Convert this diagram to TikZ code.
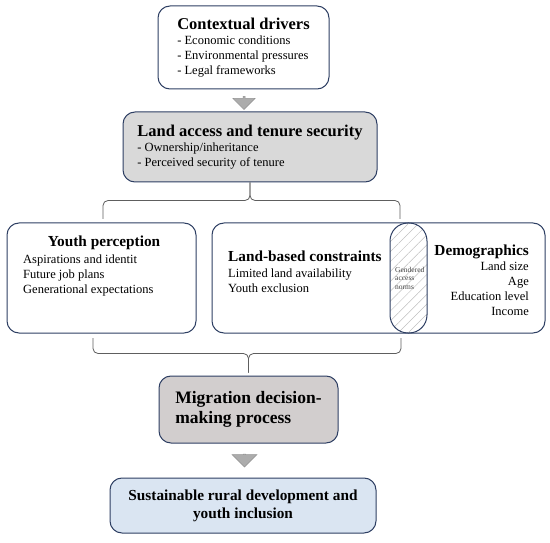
\documentclass[tikz,border=0pt]{standalone}
\usepackage{fontspec}
\setmainfont{Liberation Serif}
\usetikzlibrary{positioning, shapes.arrows, patterns.meta}

\definecolor{boxline}{HTML}{2E3F63}
\definecolor{tenuregray}{HTML}{D9D9D9}
\definecolor{migrgray}{HTML}{D2CECE}
\definecolor{outblue}{HTML}{DAE5F2}
\definecolor{bracegray}{HTML}{5E5E5E}

\newcommand{\bighead}{\fontsize{16.5}{18}\selectfont\bfseries}
\newcommand{\midhead}{\fontsize{15.3}{17}\selectfont\bfseries}

\begin{document}
\begin{tikzpicture}[x=1pt, y=-1pt,
	box/.style={draw=boxline, line width=1pt, rounded corners=12pt, inner sep=0pt},
	body/.style={font=\fontsize{12.5}{15}\selectfont, inner sep=0pt},
	heading/.style={font=\midhead, inner sep=0pt},
	downarrow/.style={single arrow, rotate=-90, fill=gray!65, draw=gray!85, line width=0.5pt, inner sep=0pt, minimum height=13pt, single arrow head extend=2.5pt},
	brace/.style={draw=bracegray, line width=0.8pt, rounded corners=5pt}]

	\useasboundingbox (0,0) rectangle (550,543);

	\node[box, fill=white, minimum width=171pt, minimum height=83pt, align=left, body] (drivers) at (243.5,47.5)
		{{\bighead Contextual drivers}\\- Economic conditions\\- Environmental pressures\\- Legal frameworks};
	\node[downarrow, minimum width=22pt] (arr1) at (244,102.5) {};
	\node[box, fill=tenuregray, minimum width=254pt, minimum height=70pt, align=left, body] (tenure) at (250,147)
		{{\bighead Land access and tenure security}\\- Ownership/inheritance\\- Perceived security of tenure};

	% middle row
	\node[box, minimum width=189pt, minimum height=110pt] (youth) at (101.5,278) {};
	\node[heading] (youthhead) at (104,243) {Youth perception};
	\node[body, anchor=west, align=left] (youthitems) at (23,275)
		{Aspirations and identit\\Future job plans\\Generational expectations};
	\node[box, minimum width=333pt, minimum height=110pt] (constraints) at (378.5,278) {};
	\node[draw=boxline, line width=1pt, rounded corners=18pt, minimum width=37pt, minimum height=110pt,
		pattern={Lines[angle=45,distance=7pt,line width=0.5pt]}, pattern color=gray!50] (gender) at (408.5,278) {};
	\node[body, anchor=west, align=left] (constrtext) at (228,272)
		{{\midhead Land-based constraints}\\[1pt]Limited land availability\\Youth exclusion};
	\node[anchor=west, align=left, inner sep=0pt, font=\fontsize{7.5}{8.5}\selectfont, text=black!75] (gendertext) at (395,278)
		{Gendered\\access\\norms};
	\node[body, anchor=east, align=right] (demogtext) at (529,280)
		{{\midhead Demographics}\\Land size\\Age\\Education level\\Income};

	\node[box, fill=migrgray, minimum width=179pt, minimum height=67pt, align=left, font=\fontsize{17.5}{20}\selectfont\bfseries] (migration) at (248.5,409.5)
		{Migration decision-\\making process};
	\node[downarrow, minimum width=25pt] (arr2) at (244.5,460) {};
	\node[box, fill=outblue, minimum width=266pt, minimum height=55pt, align=center, font=\fontsize{15.3}{18}\selectfont\bfseries] (outcome) at (243,505.5)
		{Sustainable rural development and\\youth inclusion};

	% braces
	\coordinate (ytop) at (103,219);
	\coordinate (ctop) at (400,219);
	\coordinate (ybot) at (93,338);
	\coordinate (cbot) at (401,338);
	\draw[brace] (tenure.south) -- ++(0,18) -| (ytop);
	\draw[brace] (tenure.south) -- ++(0,18) -| (ctop);
	\draw[brace, shorten <=3pt] (migration.north) -- ++(0,-22) -| (ybot);
	\draw[brace, shorten <=3pt] (migration.north) -- ++(0,-22) -| (cbot);
\end{tikzpicture}
\end{document}
